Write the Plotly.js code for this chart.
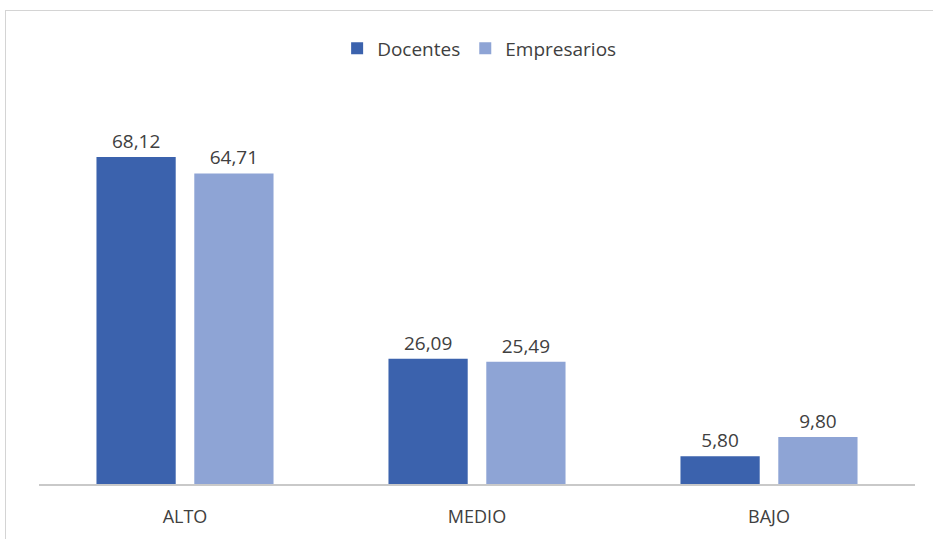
<!DOCTYPE html>
<html><head><meta charset="utf-8">
<script src="https://cdn.plot.ly/plotly-3.0.1.min.js"></script>
<style>
html,body{margin:0;padding:0;background:#fff;}
#wrap{position:relative;width:933px;height:539px;overflow:hidden;}
#frame{position:absolute;left:5px;top:10px;width:940px;height:560px;border:1px solid #d4d4d4;pointer-events:none;}
#chart{position:absolute;left:0;top:0;width:933px;height:539px;}
</style></head>
<body>
<div id="wrap"><div id="frame"></div><div id="chart"></div></div>
<script>
const categories = ["ALTO", "MEDIO", "BAJO"];
const docentes = [68.12, 26.09, 5.80];
const empresarios = [64.71, 25.49, 9.80];

const fontFam = "'Open Sans', 'Noto Sans', sans-serif";
const traces = [
  {type:'bar', name:'Docentes', x:categories, y:docentes, marker:{color:'#3b62ad'},
   text: docentes, texttemplate:'%{y:.2f}', textposition:'outside', cliponaxis:false,
   textfont:{size:19, color:'#404040', family:fontFam}},
  {type:'bar', name:'Empresarios', x:categories, y:empresarios, marker:{color:'#8ea4d5'},
   text: empresarios, texttemplate:'%{y:.2f}', textposition:'outside', cliponaxis:false,
   textfont:{size:19, color:'#404040', family:fontFam}}
];
const layout = {
  width:933, height:539,
  margin:{l:39, r:18, t:100, b:55},
  paper_bgcolor:'rgba(0,0,0,0)', plot_bgcolor:'rgba(0,0,0,0)',
  separators:',.',
  barmode:'group', bargap:0.33, bargroupgap:0.19,
  font:{family:fontFam, color:'#404040', size:18},
  showlegend:true,
  legend:{orientation:'h', x:0.503, xanchor:'center', y:0.91, yref:'container', yanchor:'middle',
          font:{size:19, color:'#404040', family:fontFam}, itemwidth:30, traceorder:'normal'},
  xaxis:{showline:true, linecolor:'#c9c9c9', linewidth:1.5, ticks:'', showgrid:false,
         tickfont:{size:18, color:'#404040'}, ticklabelstandoff:16},
  yaxis:{range:[0,80], visible:false, showgrid:false, zeroline:false}
};
Plotly.newPlot('chart', traces, layout, {displayModeBar:false, staticPlot:true});
</script>
</body></html>
